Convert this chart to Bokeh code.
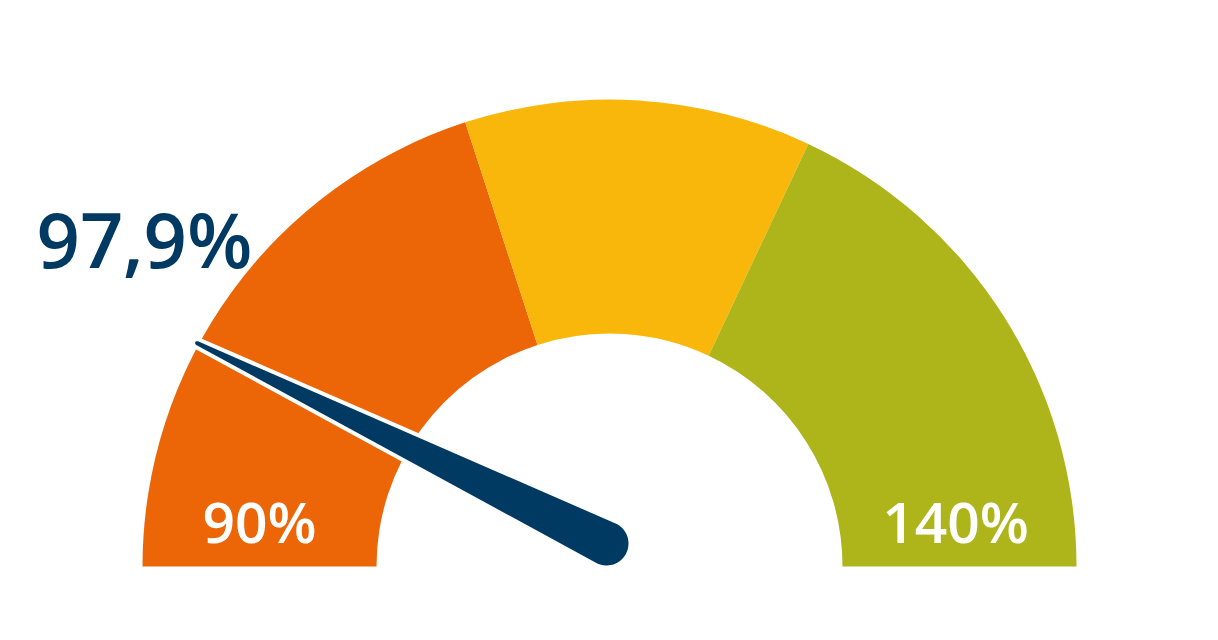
import numpy as np
from bokeh.plotting import figure
from bokeh.embed import file_html
from bokeh.resources import INLINE
from bokeh.core.properties import value

# ---- data ----
band_edges = [90, 110, 122, 140]
band_colors = ["#EC6608", "#FAB70B", "#ADB51A"]
gauge_value = 97.9
value_label = "97,9%"
min_label = "90%"
max_label = "140%"

vmin, vmax = band_edges[0], band_edges[-1]

W, H = 1202, 624
p = figure(width=W, height=H, x_range=(0, W), y_range=(0, H),
           output_backend="svg", toolbar_location=None, min_border=0)
p.axis.visible = False
p.grid.visible = False
p.outline_line_color = None
p.background_fill_color = "white"
p.border_fill_color = "white"

cx, cy = 609, 58
r_in, r_out = 233, 467

def ang(v):
    return np.pi * (1 - (v - vmin) / (vmax - vmin))

starts = [ang(band_edges[i + 1]) for i in range(len(band_colors))]
ends = [ang(band_edges[i]) for i in range(len(band_colors))]
p.annular_wedge(x=[cx] * 3, y=[cy] * 3, inner_radius=r_in, outer_radius=r_out,
                start_angle=starts, end_angle=ends, color=band_colors,
                line_color=None, direction="anticlock")

# needle
a = ang(gauge_value)
T = np.array([cx + 469 * np.cos(a), cy + 469 * np.sin(a)])
B = np.array([cx - 3, cy + 23])
R, rt = 22.0, 2.0
d = T - B
L = np.hypot(*d)
u = d / L
th = np.arctan2(u[1], u[0])
pts = []
for t in np.linspace(th + np.pi / 2, th + 3 * np.pi / 2, 40):
    pts.append(B + R * np.array([np.cos(t), np.sin(t)]))
for t in np.linspace(th - np.pi / 2, th + np.pi / 2, 12):
    pts.append(T + rt * np.array([np.cos(t), np.sin(t)]))
pts = np.array(pts)
p.patch(pts[:, 0], pts[:, 1], fill_color="white", line_color="white", line_width=8,
        line_join="round")
p.patch(pts[:, 0], pts[:, 1], fill_color="#003A63", line_color=None)

font = value("Open Sans SemiBold")
mid = (r_in + r_out) / 2
p.text(x=[cx - mid], y=[104], text=[min_label], text_color="white",
       text_font=font, text_font_size="57px",
       text_align="center", text_baseline="alphabetic")
p.text(x=[cx + mid - 4], y=[104], text=[max_label], text_color="white",
       text_font=font, text_font_size="57px",
       text_align="center", text_baseline="alphabetic")
p.text(x=[36], y=[386], text=[value_label], text_color="#003A63",
       text_font=font, text_font_size="76px",
       text_align="left", text_baseline="alphabetic")

open("out.html", "w").write(file_html(p, INLINE))
